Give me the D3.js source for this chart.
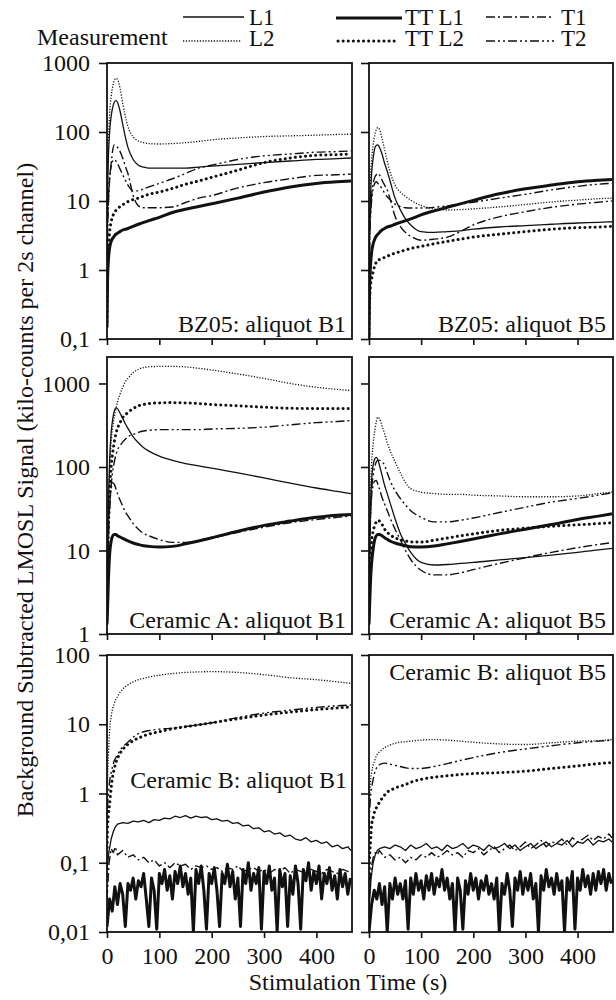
<!DOCTYPE html>
<html>
<head>
<meta charset="utf-8">
<script src="https://cdn.jsdelivr.net/npm/d3@7"></script>
<style>
  body { margin: 0; background: #fff; }
  text { font-family: "Liberation Serif", "Times New Roman", serif; fill: #111; }
</style>
</head>
<body>
<script>
// time grids (s)
const tGrid = [0,1,3,5,8,11,14,17,20,25,30,35,40,50,60,70,80,100,125,150,175,200,250,300,350,400,440,466];
const tNoise = [0,4,8,12,16,20,30,40,50,60,70,80,90,100,110,120,130,140,150,160,170,180,190,200,210,220,230,240,250,260,270,280,290,300,310,320,330,340,350,360,370,380,390,400,410,420,430,440,450,460,466];
const tDense = [0,5,10,15,20,25,30,35,40,45,50,55,60,65,70,75,80,85,90,95,
  100,105,110,115,120,125,130,135,140,145,150,155,160,165,170,175,180,185,190,195,
  200,205,210,215,220,225,230,235,240,245,250,255,260,265,270,275,280,285,290,295,
  300,305,310,315,320,325,330,335,340,345,350,355,360,365,370,375,380,385,390,395,
  400,405,410,415,420,425,430,435,440,445,450,455,460,465];

const seriesNames = ["L1", "L2", "TT L1", "TT L2", "T1", "T2"];
const panelLabels = ["BZ05: aliquot B1", "BZ05: aliquot B5", "Ceramic A: aliquot B1",
  "Ceramic A: aliquot B5", "Ceramic B: aliquot B1", "Ceramic B: aliquot B5"];
const xTicks = [0, 100, 200, 300, 400];

// BZ05 aliquot B1
const bzB1_L1 = [0.3,10,50,100,170,230,270,285,270,200,130,85,60,40,33,31,30,30,30,30,31,32,34,36,38,40,41,42];
const bzB1_L2 = [0.3,15,80,180,330,460,560,600,580,430,260,170,120,85,74,70,68,67,68,70,73,77,82,86,88,90,92,93];
const bzB1_TTL1 = [0.15,0.7,1.5,2.1,2.6,2.9,3.1,3.3,3.4,3.6,3.8,3.9,4.0,4.3,4.6,4.9,5.2,5.8,6.8,7.6,8.3,9.1,11,13.5,16,18,19,19.5];
const bzB1_TTL2 = [0.15,0.8,2,3.5,5,6,6.8,7.3,7.7,8.3,8.8,9.3,9.8,10.5,11,11.8,12.5,13.5,15.2,17.5,19.5,22,28,36,42,46,47,48];
const bzB1_T1 = [0.3,3,10,20,35,55,65,63,60,52,42,32,25,12,8.5,8,8,8,8.2,9.5,11,12,15.5,18.5,21,23.5,24,24.5];
const bzB1_T2 = [0.3,4,12,22,32,38,40,38,35,29,24,20,17,14,14,15,16,18,21,25,30,33,40,45,48,51,52,53];

// BZ05 aliquot B5
const bzB5_L1 = [0.2,3,12,25,42,58,64,65,60,48,35,27,20,11,7.5,5.5,4.5,3.6,3.5,3.6,3.7,3.9,4.2,4.4,4.6,4.8,4.9,5.0];
const bzB5_L2 = [0.2,4,20,40,65,90,108,116,110,80,55,38,27,17,13.5,11.7,10.3,8.6,7.7,7.4,7.5,7.7,8.2,8.9,9.7,10.3,10.8,11];
const bzB5_TTL1 = [0.1,0.5,1.2,1.8,2.4,2.8,3.1,3.3,3.5,3.8,4.0,4.2,4.3,4.6,4.9,5.2,5.5,6.3,7.2,8.1,9.1,10.2,12.7,15,17,19,20,20.5];
const bzB5_TTL2 = [0.1,0.3,0.6,0.75,0.95,1.15,1.3,1.38,1.42,1.48,1.52,1.58,1.65,1.75,1.85,1.95,2.05,2.2,2.4,2.6,2.8,3.0,3.3,3.6,3.9,4.1,4.2,4.3];
const bzB5_T1 = [0.2,2,7,12,18,22,24,25,24,20,17,14.5,11,6,4.3,3.5,3.1,2.7,2.8,3.0,3.6,4.5,5.9,7.0,8.1,9.0,9.6,10];
const bzB5_T2 = [0.2,2,6,10,15,18,19,18,17,15,13,11.5,10.5,9,8.3,8,7.9,7.9,8.1,8.5,9,9.6,11,12.5,14.5,16.3,17.5,18];

// Ceramic A aliquot B1
const caB1_L1 = [1.5,8,40,120,260,380,470,510,500,440,380,330,290,230,195,170,155,135,120,110,103,97,85,74,64,56,51,48];
const caB1_L2 = [2,10,40,100,200,300,400,500,600,750,900,1050,1150,1350,1480,1550,1580,1600,1600,1580,1520,1450,1300,1150,1000,900,850,820];
const caB1_TTL1 = [1.3,2,5,9,13,15,15.5,15.5,15,14.5,14,13.5,13,12.3,11.8,11.4,11.2,11,11.2,12,13,14.2,17,20,22.5,25,26.5,27];
const caB1_TTL2 = [1.5,5,20,50,100,150,200,250,290,340,390,420,450,500,540,560,575,585,590,585,575,560,540,520,505,500,500,500];
const caB1_T1 = [1.5,5,20,35,55,65,62,55,48,40,34,29,26,21,18,16,15,13.5,12.5,12.5,13,14,16.5,19,21.5,23.5,25,26];
const caB1_T2 = [1.5,5,15,30,60,90,115,140,160,180,200,215,230,245,260,270,275,280,280,280,280,285,290,300,320,340,350,360];

// Ceramic A aliquot B5
const caB5_L1 = [1.5,8,35,70,105,125,130,122,105,80,60,48,38,24,16,12,9.5,7.2,6.7,6.8,7,7.2,7.7,8.2,8.8,9.5,10.2,10.6];
const caB5_L2 = [2,10,50,110,190,270,350,395,380,310,250,195,160,115,85,65,55,50,48,47,47,46,45,44,44,45,48,50];
const caB5_TTL1 = [1.3,2,4.5,7,10.5,13.5,15,15.5,15.5,15,14.2,13.6,13,12.3,11.8,11.4,11.1,11,11.3,12,12.8,13.7,15.8,18,20.5,23.5,25.8,27.5];
const caB5_TTL2 = [1.5,3,8,13,17,20,22,23,22.5,20.5,18,16.5,15.5,14.2,13.5,13,12.7,12.6,13.3,14.1,15,15.8,17.4,18.5,19.5,20.3,21,21.5];
const caB5_T1 = [1.5,6,25,45,60,68,69,62,55,43,36,30,25,18,13.5,10,7.8,5.8,5.1,5.1,5.4,5.9,7.0,8.2,9.5,10.8,11.8,12.4];
const caB5_T2 = [1.5,6,25,50,80,100,115,120,120,115,105,85,70,52,42,35,30,25,22,22,23,24.5,28.5,33,38,42,46,49];

// Ceramic B aliquot B1
const cbB1_L2 = [0.5,1.5,4,8,13,17,20,23,25,29,32,35,37,41,44,46,48,51,54,56,57,57.5,56,52,47,44,41,39];
const cbB1_TTL2 = [0.1,0.3,0.5,0.7,1.2,1.8,2.3,2.8,3.2,3.8,4.3,4.8,5.1,5.8,6.3,6.8,7.2,7.8,8.6,9.2,9.8,10.5,12,13.6,15,16.3,17.2,17.8];
const cbB1_T2 = [0.3,0.6,1,1.5,2,2.5,3,3.3,3.6,4.2,4.7,5.1,5.5,6.5,7.3,7.8,8.1,8.5,8.8,9.3,9.8,10.5,12.5,14.5,16,17.5,18.5,19];
const cbB1_L1 = [0.08,0.15,0.22,0.28,0.33,0.36,0.38,0.37,0.40,0.39,0.41,0.38,0.42,0.41,0.44,0.43,0.47,0.45,0.48,0.44,
  0.47,0.45,0.46,0.42,0.43,0.40,0.41,0.37,0.38,0.34,0.35,0.31,0.32,0.28,0.29,0.26,0.27,0.24,0.25,0.22,
  0.21,0.23,0.20,0.21,0.19,0.20,0.17,0.18,0.16,0.17,0.15];
const cbB1_T1 = [0.03,0.10,0.16,0.14,0.17,0.13,0.15,0.12,0.13,0.11,0.12,0.10,0.11,0.09,0.10,0.085,0.10,0.09,0.095,0.08,
  0.09,0.085,0.09,0.08,0.085,0.075,0.085,0.08,0.09,0.075,0.08,0.085,0.075,0.08,0.07,0.08,0.075,0.085,0.07,0.08,
  0.075,0.07,0.08,0.075,0.07,0.08,0.075,0.07,0.08,0.075,0.07];
const cbB1_TTL1 = [0.012,0.03,0.02,0.045,0.025,0.05,0.035,0.012,0.05,0.04,
  0.06,0.03,0.055,0.045,0.07,0.03,0.012,0.06,0.04,0.011,
  0.07,0.05,0.08,0.04,0.065,0.03,0.075,0.05,0.09,0.045,
  0.07,0.035,0.06,0.01,0.08,0.05,0.09,0.04,0.011,0.07,
  0.05,0.085,0.04,0.012,0.07,0.05,0.095,0.045,0.075,0.03,
  0.06,0.012,0.08,0.05,0.1,0.04,0.07,0.05,0.085,0.011,
  0.075,0.05,0.09,0.04,0.06,0.01,0.08,0.045,0.07,0.012,
  0.065,0.035,0.09,0.05,0.011,0.08,0.055,0.1,0.04,0.075,
  0.05,0.09,0.03,0.07,0.05,0.085,0.04,0.065,0.03,0.08,
  0.045,0.07,0.035,0.06];

// Ceramic B aliquot B5
const cbB5_L2 = [0.3,0.8,1.5,2,2.6,3,3.5,3.8,4,4.3,4.6,4.8,5,5.3,5.5,5.6,5.7,5.9,6,5.9,5.7,5.5,5.2,5.1,5.4,5.7,5.8,6];
const cbB5_TTL2 = [0.05,0.1,0.2,0.35,0.45,0.55,0.62,0.68,0.75,0.85,0.95,1.05,1.1,1.2,1.27,1.35,1.45,1.6,1.72,1.8,1.88,1.94,2.0,2.1,2.3,2.5,2.7,2.8];
const cbB5_T2 = [0.3,0.5,0.9,1.2,1.6,2,2.3,2.5,2.6,2.7,2.75,2.7,2.65,2.55,2.45,2.35,2.3,2.3,2.45,2.7,3,3.3,3.9,4.4,4.9,5.4,5.7,5.9];
const cbB5_L1 = [0.02,0.06,0.10,0.13,0.15,0.16,0.17,0.16,0.18,0.17,0.15,0.18,0.16,0.17,0.19,0.16,0.17,0.15,0.18,0.16,
  0.17,0.19,0.16,0.18,0.17,0.15,0.18,0.16,0.17,0.19,0.16,0.18,0.15,0.17,0.19,0.16,0.18,0.20,0.17,0.19,
  0.18,0.21,0.17,0.20,0.19,0.22,0.18,0.21,0.20,0.22,0.20];
const cbB5_T1 = [0.03,0.08,0.12,0.14,0.13,0.15,0.12,0.13,0.11,0.12,0.10,0.12,0.11,0.13,0.12,0.14,0.12,0.13,0.15,0.13,
  0.14,0.12,0.15,0.14,0.16,0.13,0.15,0.17,0.14,0.16,0.18,0.15,0.17,0.20,0.16,0.18,0.21,0.17,0.20,0.19,
  0.22,0.18,0.23,0.20,0.22,0.25,0.21,0.24,0.22,0.26,0.23];
const cbB5_TTL1 = [0.01,0.025,0.04,0.03,0.05,0.025,0.045,0.01,0.05,0.03,
  0.06,0.035,0.05,0.03,0.055,0.011,0.06,0.035,0.07,0.04,
  0.055,0.03,0.065,0.04,0.07,0.035,0.06,0.045,0.08,0.04,
  0.06,0.03,0.05,0.01,0.06,0.04,0.011,0.055,0.035,0.07,
  0.04,0.06,0.03,0.055,0.04,0.065,0.035,0.05,0.03,0.06,
  0.01,0.05,0.035,0.07,0.04,0.012,0.06,0.04,0.075,0.035,
  0.06,0.04,0.07,0.03,0.05,0.01,0.065,0.04,0.08,0.045,
  0.06,0.035,0.07,0.04,0.055,0.01,0.06,0.04,0.075,0.011,
  0.06,0.04,0.08,0.045,0.065,0.035,0.07,0.04,0.075,0.05,
  0.08,0.04,0.07,0.05];

const width = 616;
const height = 1000;
const tMax = 468;

const cols = [{ left: 107, right: 352 }, { left: 369, right: 613 }];
const rows = [
    { top: 63, bottom: 339, domain: [0.1, 1000], ticks: [0.1, 1, 10, 100, 1000] },
    { top: 357, bottom: 634, domain: [1, 2075], ticks: [1, 10, 100, 1000] },
    { top: 655, bottom: 932, domain: [0.01, 100], ticks: [0.01, 0.1, 1, 10, 100] }
];

const styles = {
    "L1": { w: 1.3, dash: null, cap: "butt" },
    "L2": { w: 1.3, dash: "1.2,1.6", cap: "butt" },
    "TT L1": { w: 3, dash: null, cap: "butt" },
    "TT L2": { w: 3, dash: "0.1,5", cap: "round" },
    "T1": { w: 1.4, dash: "9,3,2,3", cap: "butt" },
    "T2": { w: 1.4, dash: "9,3,2,3,2,3", cap: "butt" }
};
const drawOrder = ["L2", "T2", "T1", "L1", "TT L2", "TT L1"];

const panels = [
    { row: 0, col: 0, label: panelLabels[0], lx: 346, ly: 332,
      series: { "L1": [tGrid, bzB1_L1], "L2": [tGrid, bzB1_L2], "TT L1": [tGrid, bzB1_TTL1],
                "TT L2": [tGrid, bzB1_TTL2], "T1": [tGrid, bzB1_T1], "T2": [tGrid, bzB1_T2] } },
    { row: 0, col: 1, label: panelLabels[1], lx: 606, ly: 332,
      series: { "L1": [tGrid, bzB5_L1], "L2": [tGrid, bzB5_L2], "TT L1": [tGrid, bzB5_TTL1],
                "TT L2": [tGrid, bzB5_TTL2], "T1": [tGrid, bzB5_T1], "T2": [tGrid, bzB5_T2] } },
    { row: 1, col: 0, label: panelLabels[2], lx: 346, ly: 628,
      series: { "L1": [tGrid, caB1_L1], "L2": [tGrid, caB1_L2], "TT L1": [tGrid, caB1_TTL1],
                "TT L2": [tGrid, caB1_TTL2], "T1": [tGrid, caB1_T1], "T2": [tGrid, caB1_T2] } },
    { row: 1, col: 1, label: panelLabels[3], lx: 606, ly: 628,
      series: { "L1": [tGrid, caB5_L1], "L2": [tGrid, caB5_L2], "TT L1": [tGrid, caB5_TTL1],
                "TT L2": [tGrid, caB5_TTL2], "T1": [tGrid, caB5_T1], "T2": [tGrid, caB5_T2] } },
    { row: 2, col: 0, label: panelLabels[4], lx: 347, ly: 788,
      series: { "L1": [tNoise, cbB1_L1], "L2": [tGrid, cbB1_L2], "TT L1": [tDense, cbB1_TTL1],
                "TT L2": [tGrid, cbB1_TTL2], "T1": [tNoise, cbB1_T1], "T2": [tGrid, cbB1_T2] } },
    { row: 2, col: 1, label: panelLabels[5], lx: 606, ly: 680,
      series: { "L1": [tNoise, cbB5_L1], "L2": [tGrid, cbB5_L2], "TT L1": [tDense, cbB5_TTL1],
                "TT L2": [tGrid, cbB5_TTL2], "T1": [tNoise, cbB5_T1], "T2": [tGrid, cbB5_T2] } }
];

const fmt = v => String(v).replace(".", ",");

const svg = d3.select("body")
    .append("svg")
    .attr("width", width)
    .attr("height", height);

panels.forEach((p, i) => {
    const c = cols[p.col];
    const r = rows[p.row];

    const xScale = d3.scaleLinear().domain([0, tMax]).range([c.left, c.right]);
    const yScale = d3.scaleLog().domain(r.domain).range([r.bottom, r.top]);

    svg.append("clipPath")
        .attr("id", "clip" + i)
        .append("rect")
        .attr("x", c.left)
        .attr("y", r.top)
        .attr("width", c.right - c.left)
        .attr("height", r.bottom - r.top);

    const g = svg.append("g").attr("clip-path", `url(#clip${i})`);

    drawOrder.forEach(name => {
        const [ts, vs] = p.series[name];
        const pts = ts.map((t, k) => [t, vs[k]]);
        const noisy = ts !== tGrid;
        const line = d3.line()
            .x(d => xScale(d[0]))
            .y(d => yScale(d[1]))
            .curve(noisy ? d3.curveLinear : d3.curveMonotoneX);
        const s = styles[name];
        g.append("path")
            .datum(pts)
            .attr("d", line)
            .attr("fill", "none")
            .attr("stroke", "#111")
            .attr("stroke-width", s.w)
            .attr("stroke-linecap", s.cap)
            .attr("stroke-linejoin", "round")
            .attr("stroke-dasharray", s.dash);
    });

    // y axis
    const yAxis = svg.append("g")
        .attr("transform", `translate(${c.left},0)`)
        .call(d3.axisLeft(yScale)
            .tickValues(r.ticks)
            .tickSize(8)
            .tickPadding(9)
            .tickFormat(p.col === 0 ? fmt : ""));
    yAxis.select(".domain").remove();
    yAxis.selectAll("line").attr("stroke", "#111").attr("stroke-width", 1.6);
    yAxis.selectAll("text").style("font-size", "24px").attr("fill", "#111")
        .style("font-family", '"Liberation Serif", "Times New Roman", serif');

    // x axis
    const xAxis = svg.append("g")
        .attr("transform", `translate(0,${r.bottom})`)
        .call(d3.axisBottom(xScale)
            .tickValues(xTicks)
            .tickSize(6)
            .tickPadding(9)
            .tickFormat(p.row === 2 ? d3.format("d") : ""));
    xAxis.select(".domain").remove();
    xAxis.selectAll("line").attr("stroke", "#111").attr("stroke-width", 1.6);
    xAxis.selectAll("text").style("font-size", "24px").attr("fill", "#111")
        .style("font-family", '"Liberation Serif", "Times New Roman", serif');

    svg.append("rect")
        .attr("x", c.left)
        .attr("y", r.top)
        .attr("width", c.right - c.left)
        .attr("height", r.bottom - r.top)
        .attr("fill", "none")
        .attr("stroke", "#111")
        .attr("stroke-width", 1.8);

    svg.append("text")
        .attr("x", p.lx)
        .attr("y", p.ly)
        .attr("text-anchor", "end")
        .style("font-size", "24px")
        .text(p.label);
});

// axis titles
svg.append("text")
    .attr("transform", "translate(33,490) rotate(-90)")
    .attr("text-anchor", "middle")
    .style("font-size", "24px")
    .text("Background Subtracted LMOSL Signal (kilo-counts per 2s channel)");

svg.append("text")
    .attr("x", 348)
    .attr("y", 990)
    .attr("text-anchor", "middle")
    .style("font-size", "24px")
    .text("Stimulation Time (s)");

// legend
const legendItems = [
    { name: "L1", x1: 183, x2: 244, ly: 17, tx: 249, ty: 25 },
    { name: "L2", x1: 183, x2: 241, ly: 41, tx: 249, ty: 46 },
    { name: "TT L1", x1: 336, x2: 402, ly: 18, tx: 405, ty: 25 },
    { name: "TT L2", x1: 338, x2: 398, ly: 41, tx: 405, ty: 46 },
    { name: "T1", x1: 486, x2: 554, ly: 17, tx: 561, ty: 25 },
    { name: "T2", x1: 486, x2: 554, ly: 41, tx: 561, ty: 46 }
];

svg.append("text")
    .attr("x", 37)
    .attr("y", 45)
    .style("font-size", "24px")
    .text("Measurement");

legendItems.forEach(d => {
    const s = styles[d.name];
    svg.append("line")
        .attr("x1", d.x1).attr("x2", d.x2)
        .attr("y1", d.ly).attr("y2", d.ly)
        .attr("stroke", "#111")
        .attr("stroke-width", s.w)
        .attr("stroke-linecap", s.cap)
        .attr("stroke-dasharray", s.dash);
    svg.append("text")
        .attr("x", d.tx)
        .attr("y", d.ty)
        .style("font-size", "23px")
        .text(d.name);
});
</script>
</body>
</html>
